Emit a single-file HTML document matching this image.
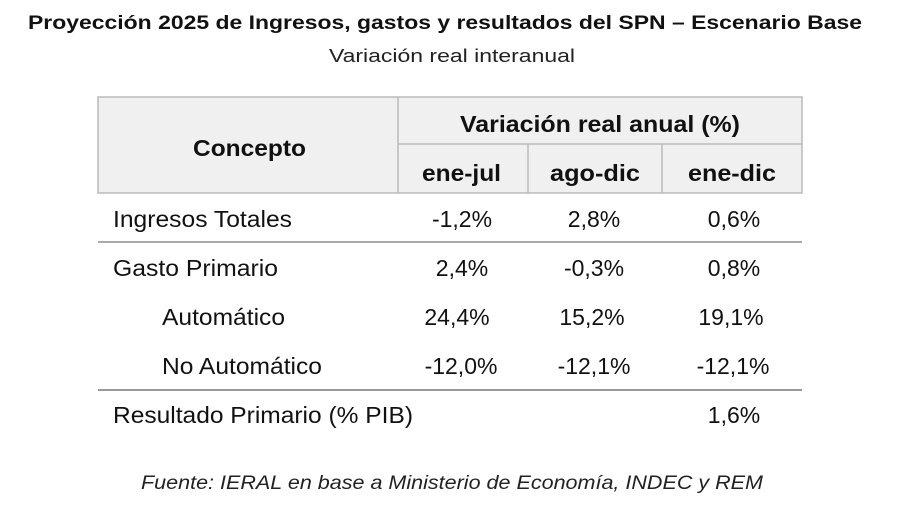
<!DOCTYPE html>
<html><head><meta charset="utf-8"><style>
body{margin:0;background:#fff;}
svg{display:block;font-family:"Liberation Sans",sans-serif;}
</style></head><body>
<svg width="900" height="505" viewBox="0 0 900 505">
<text x="445" y="29" text-anchor="middle" font-size="19" font-weight="bold" textLength="834" lengthAdjust="spacingAndGlyphs" fill="#111">Proyección 2025 de Ingresos, gastos y resultados del SPN – Escenario Base</text>
<text x="452" y="62" text-anchor="middle" font-size="18" textLength="246" lengthAdjust="spacingAndGlyphs" fill="#222">Variación real interanual</text>
<rect x="98" y="97" width="704" height="96" fill="#f0f0f0" stroke="#bbb" stroke-width="1.5"/>
<line x1="398" y1="97" x2="398" y2="193" stroke="#bbb" stroke-width="1.5"/>
<line x1="398" y1="144" x2="802" y2="144" stroke="#bbb" stroke-width="1.5"/>
<line x1="528" y1="144" x2="528" y2="193" stroke="#bbb" stroke-width="1.5"/>
<line x1="662" y1="144" x2="662" y2="193" stroke="#bbb" stroke-width="1.5"/>
<line x1="98" y1="242" x2="802" y2="242" stroke="#aaa" stroke-width="2"/>
<line x1="98" y1="390" x2="802" y2="390" stroke="#999" stroke-width="2"/>
<g font-size="23" font-weight="bold" fill="#111">
<text x="193" y="156" textLength="113" lengthAdjust="spacingAndGlyphs">Concepto</text>
<text x="460" y="132" textLength="280" lengthAdjust="spacingAndGlyphs">Variación real anual (%)</text>
<text x="422" y="181" textLength="79" lengthAdjust="spacingAndGlyphs">ene-jul</text>
<text x="550" y="181" textLength="90" lengthAdjust="spacingAndGlyphs">ago-dic</text>
<text x="688" y="181" textLength="88" lengthAdjust="spacingAndGlyphs">ene-dic</text>
</g>
<g font-size="23" fill="#111">
<text x="113" y="227" textLength="179" lengthAdjust="spacingAndGlyphs">Ingresos Totales</text>
<text x="113" y="276" textLength="165" lengthAdjust="spacingAndGlyphs">Gasto Primario</text>
<text x="162" y="325" textLength="123" lengthAdjust="spacingAndGlyphs">Automático</text>
<text x="162" y="374" textLength="160" lengthAdjust="spacingAndGlyphs">No Automático</text>
<text x="113" y="423" textLength="300" lengthAdjust="spacingAndGlyphs">Resultado Primario (% PIB)</text>
</g>
<g font-size="23" fill="#111" text-anchor="middle">
<text x="462" y="227">-1,2%</text><text x="594" y="227">2,8%</text><text x="734" y="227">0,6%</text>
<text x="462" y="276">2,4%</text><text x="594" y="276">-0,3%</text><text x="734" y="276">0,8%</text>
<text x="457" y="325">24,4%</text><text x="592" y="325">15,2%</text><text x="731" y="325">19,1%</text>
<text x="461" y="374">-12,0%</text><text x="594" y="374">-12,1%</text><text x="733" y="374">-12,1%</text>
<text x="734" y="423">1,6%</text>
</g>
<text x="452" y="489" text-anchor="middle" font-size="19" font-style="italic" textLength="622" lengthAdjust="spacingAndGlyphs" fill="#222">Fuente: IERAL en base a Ministerio de Economía, INDEC y REM</text>
</svg>
</body></html>
